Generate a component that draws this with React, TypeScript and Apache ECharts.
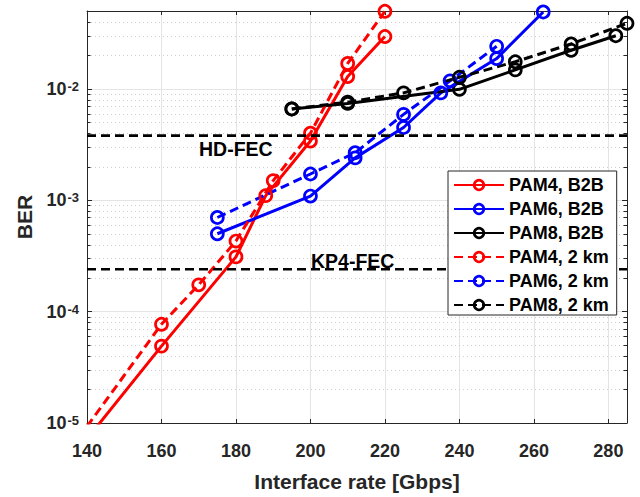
import React, { useEffect, useRef } from "react";
import * as echarts from "echarts";

// ---- data ----
const pam4B2BX = [140, 160, 180, 188, 200, 210, 220];
const pam4B2BY = [7.2e-6, 4.9e-5, 3.1e-4, 1.1e-3, 3.4e-3, 1.29e-2, 2.95e-2];

const pam6B2BX = [175, 200, 212, 225, 235, 250, 262.5];
const pam6B2BY = [5.0e-4, 1.09e-3, 2.4e-3, 4.5e-3, 9.2e-3, 1.87e-2, 4.9e-2];

const pam8B2BX = [195, 210, 240, 255, 270, 282];
const pam8B2BY = [6.6e-3, 7.4e-3, 9.9e-3, 1.48e-2, 2.22e-2, 3.0e-2];

const pam4KmX = [140, 160, 170, 180, 190, 200, 210, 220];
const pam4KmY = [9.3e-6, 7.7e-5, 1.74e-4, 4.3e-4, 1.5e-3, 4.0e-3, 1.69e-2, 4.97e-2];

const pam6KmX = [175, 200, 212, 225, 237.5, 250];
const pam6KmY = [7.0e-4, 1.72e-3, 2.67e-3, 5.9e-3, 1.18e-2, 2.41e-2];

const pam8KmX = [195, 210, 225, 240, 255, 270, 285];
const pam8KmY = [6.6e-3, 7.6e-3, 9.2e-3, 1.27e-2, 1.75e-2, 2.53e-2, 3.88e-2];

const seriesNames = [
  "PAM4, B2B",
  "PAM6, B2B",
  "PAM8, B2B",
  "PAM4, 2 km",
  "PAM6, 2 km",
  "PAM8, 2 km",
];

const fecLevels = [3.8e-3, 2.4e-4];
const fecNames = ["HD-FEC", "KP4-FEC"];

const xMin = 140;
const xMax = 285;
const xStep = 20;
const yMin = 1e-5;
const yMax = 0.05;
const decades = [1e-5, 1e-4, 1e-3, 1e-2];
const minorMultipliers = [2, 3, 4, 5, 6, 7, 8, 9];

const FONT = "'Liberation Sans', Arial, Helvetica, sans-serif";
const AXIS_COLOR = "#262626";

function zip(xs: number[], ys: number[]) {
  return xs.map((x, i) => [x, ys[i]]);
}

export default function App() {
  const ref = useRef<HTMLDivElement>(null);

  useEffect(() => {
    if (!ref.current) return;
    const chart = echarts.init(ref.current, null, { renderer: "svg" });

    const minorVals: number[][] = [];
    decades.forEach((d) => {
      minorMultipliers.forEach((m) => {
        const v = d * m;
        if (v < yMax) minorVals.push([xMin, v]);
      });
    });

    const mkSeries = (
      name: string,
      xs: number[],
      ys: number[],
      color: string,
      dashed: boolean
    ) => ({
      name,
      type: "line",
      data: zip(xs, ys),
      clip: true,
      symbol: "circle",
      symbolSize: 12,
      showSymbol: true,
      itemStyle: {
        color: "rgba(255,255,255,0)",
        borderColor: color,
        borderWidth: 2.7,
      },
      lineStyle: {
        color,
        width: 3,
        type: dashed ? [9, 5] : "solid",
      },
      emphasis: { disabled: true },
      z: 5,
    });

    const fecSeries = fecLevels.map((v, i) => ({
      name: fecNames[i],
      type: "line",
      data: [
        [xMin, v],
        [xMax, v],
      ],
      showSymbol: false,
      symbol: "none",
      silent: true,
      lineStyle: { color: "#000000", width: 2.6, type: [9, 5] },
      emphasis: { disabled: true },
      z: 6,
    }));

    const colors = ["#ff0000", "#0000ff", "#000000"];

    const option: any = {
      animation: false,
      backgroundColor: "#ffffff",
      grid: { left: 87, top: 11, width: 540, height: 419, containLabel: false },
      legend: {
        data: seriesNames,
        orient: "vertical",
        left: 448,
        top: 171,
        padding: [5, 8, 1, 5],
        itemGap: 6,
        itemWidth: 50,
        itemHeight: 12,
        itemStyle: { borderWidth: 2.7 },
        backgroundColor: "#ffffff",
        borderColor: AXIS_COLOR,
        borderWidth: 1,
        borderRadius: 0,
        textStyle: {
          fontFamily: FONT,
          fontSize: 18,
          fontWeight: "bold",
          color: "#000000",
        },
        selectedMode: false,
        z: 20,
      },
      xAxis: [
        {
          type: "value",
          min: xMin,
          max: xMax,
          interval: xStep,
          name: "Interface rate [Gbps]",
          nameLocation: "middle",
          nameGap: 48,
          nameTextStyle: {
            fontFamily: FONT,
            fontSize: 21,
            fontWeight: "bold",
            color: AXIS_COLOR,
          },
          axisLine: { show: true, onZero: false, lineStyle: { color: AXIS_COLOR, width: 1 } },
          axisTick: { show: true, inside: true, length: 4, lineStyle: { color: AXIS_COLOR } },
          axisLabel: {
            margin: 19,
            showMaxLabel: false,
            fontFamily: FONT,
            fontSize: 18,
            fontWeight: "bold",
            color: AXIS_COLOR,
          },
          splitLine: { show: true, lineStyle: { color: "#e4e4e4", width: 1 } },
        },
        {
          type: "value",
          position: "top",
          min: xMin,
          max: xMax,
          interval: xStep,
          axisLine: { show: true, onZero: false, lineStyle: { color: AXIS_COLOR, width: 1 } },
          axisTick: { show: true, inside: true, length: 4, lineStyle: { color: AXIS_COLOR } },
          axisLabel: { show: false },
          splitLine: { show: false },
        },
      ],
      yAxis: [
        {
          type: "log",
          logBase: 10,
          min: yMin,
          max: yMax,
          name: "BER",
          nameLocation: "middle",
          nameRotate: 90,
          nameGap: 52,
          nameTextStyle: {
            fontFamily: FONT,
            fontSize: 21,
            fontWeight: "bold",
            color: AXIS_COLOR,
          },
          axisLine: { show: true, onZero: false, lineStyle: { color: AXIS_COLOR, width: 1 } },
          axisTick: { show: true, inside: true, length: 5, lineStyle: { color: AXIS_COLOR } },
          axisLabel: {
            margin: 8,
            showMaxLabel: false,
            formatter: (v: number) => {
              const e = Math.log10(v);
              const r = Math.round(e);
              if (Math.abs(e - r) > 1e-6) return "";
              return `{b|10}{s|${r}}`;
            },
            rich: {
              b: {
                fontFamily: FONT,
                fontSize: 18,
                fontWeight: "bold",
                color: AXIS_COLOR,
                lineHeight: 18,
                verticalAlign: "bottom",
                padding: [8, 0, 0, 0],
              },
              s: {
                fontFamily: FONT,
                fontSize: 13,
                fontWeight: "bold",
                color: AXIS_COLOR,
                lineHeight: 13,
                verticalAlign: "top",
                padding: [0, 0, 13, 1],
              },
            },
          },
          splitLine: { show: true, lineStyle: { color: "#e4e4e4", width: 1 } },
        },
        {
          type: "log",
          logBase: 10,
          min: yMin,
          max: yMax,
          position: "right",
          axisLine: { show: true, onZero: false, lineStyle: { color: AXIS_COLOR, width: 1 } },
          axisTick: { show: true, inside: true, length: 5, lineStyle: { color: AXIS_COLOR } },
          axisLabel: { show: false },
          splitLine: { show: false },
        },
      ],
      series: [
        {
          name: "minorGrid",
          type: "custom",
          silent: true,
          z: 1,
          data: minorVals,
          renderItem: (params: any, api: any) => {
            const pt = api.coord([api.value(0), api.value(1)]);
            const cs = params.coordSys;
            const y = Math.round(pt[1]) + 0.5;
            return {
              type: "group",
              children: [
                {
                  type: "line",
                  shape: { x1: cs.x, y1: y, x2: cs.x + cs.width, y2: y },
                  style: { stroke: "#cfcfcf", lineWidth: 1, lineDash: [1, 3] },
                },
                {
                  type: "line",
                  shape: { x1: cs.x, y1: y, x2: cs.x + 3.5, y2: y },
                  style: { stroke: AXIS_COLOR, lineWidth: 1 },
                },
                {
                  type: "line",
                  shape: { x1: cs.x + cs.width - 3.5, y1: y, x2: cs.x + cs.width, y2: y },
                  style: { stroke: AXIS_COLOR, lineWidth: 1 },
                },
              ],
            };
          },
        },
        mkSeries(seriesNames[0], pam4B2BX, pam4B2BY, colors[0], false),
        mkSeries(seriesNames[1], pam6B2BX, pam6B2BY, colors[1], false),
        mkSeries(seriesNames[2], pam8B2BX, pam8B2BY, colors[2], false),
        mkSeries(seriesNames[3], pam4KmX, pam4KmY, colors[0], true),
        mkSeries(seriesNames[4], pam6KmX, pam6KmY, colors[1], true),
        mkSeries(seriesNames[5], pam8KmX, pam8KmY, colors[2], true),
        ...fecSeries,
      ],
      graphic: [
        {
          type: "text",
          x: 199,
          y: 149,
          style: {
            text: fecNames[0],
            fontFamily: FONT,
            fontSize: 19.5,
            fontWeight: "bold",
            fill: "#000000",
            verticalAlign: "middle",
          },
          z: 10,
        },
        {
          type: "text",
          x: 311,
          y: 261,
          style: {
            text: fecNames[1],
            fontFamily: FONT,
            fontSize: 19.5,
            fontWeight: "bold",
            fill: "#000000",
            verticalAlign: "middle",
          },
          z: 10,
        },
      ],
    };

    chart.setOption(option);
    return () => chart.dispose();
  }, []);

  return (
    <div
      ref={ref}
      style={{ position: "fixed", left: 0, top: 0, width: 640, height: 497, background: "#fff" }}
    />
  );
}
